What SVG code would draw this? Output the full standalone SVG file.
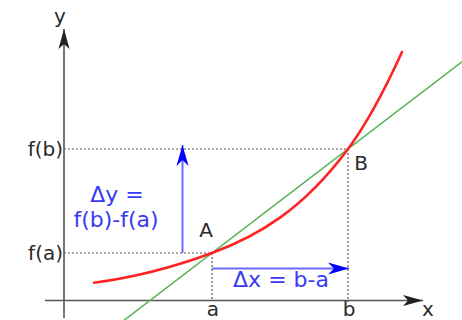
<svg xmlns="http://www.w3.org/2000/svg" width="462" height="320" viewBox="0 0 462 320">
<defs>
<style>
.lbl{font-family:"DejaVu Sans","Bitstream Vera Sans",sans-serif;font-size:20px;fill:#2a2a2a;}
.blu{font-family:"DejaVu Sans","Bitstream Vera Sans",sans-serif;font-size:22px;fill:#3a3af5;}
.axis{stroke:#555;stroke-width:1.6;fill:none;}
.dot{stroke:#555;stroke-width:1.2;stroke-dasharray:2,2;fill:none;}
.barrow{stroke:#6a6aff;stroke-width:2;fill:none;}
</style>
<marker id="ah" viewBox="-20 -6 22 12" refX="0" refY="0" markerWidth="22" markerHeight="12" markerUnits="userSpaceOnUse" orient="auto">
<path d="M0,0 L-20,-5.5 L-15,0 L-20,5.5 Z" fill="#222"/>
</marker>
<marker id="bh" viewBox="-21 -7 23 14" refX="0" refY="0" markerWidth="23" markerHeight="14" markerUnits="userSpaceOnUse" orient="auto">
<path d="M0,0 L-21,-6 L-15,0 L-21,6 Z" fill="#0000ff"/>
</marker>
</defs>
<rect width="462" height="320" fill="#fff"/>
<g id="connectors">
<line class="dot" x1="64" y1="149" x2="348" y2="149"/>
<line class="dot" x1="64" y1="253" x2="212" y2="253"/>
<line class="dot" x1="212" y1="253" x2="212" y2="300"/>
<line class="dot" x1="348" y1="149" x2="348" y2="302"/>
<line class="axis" x1="64" y1="318" x2="64" y2="29" marker-end="url(#ah)"/>
<line class="axis" x1="45" y1="300.5" x2="423" y2="300.5" marker-end="url(#ah)"/>
<line class="barrow" x1="182.5" y1="253" x2="182.5" y2="145" marker-end="url(#bh)"/>
<line class="barrow" x1="212" y1="268.5" x2="349" y2="268.5" marker-end="url(#bh)"/>
</g>
<g id="secant">
<line x1="120" y1="323.4" x2="465" y2="59.5" stroke="#5cb85c" stroke-width="1.6"/>
</g>
<g id="curve">
<path d="M94,282.7 C133.3,277.6 172.7,267.5 212,253 C257.3,236.2 302.7,210.2 348,149 C366,124.7 384,91.6 402,52" fill="none" stroke="#ff2222" stroke-width="2.6" stroke-linecap="round"/>
</g>
<g id="point-A"><text class="lbl" x="206" y="237" text-anchor="middle">A</text></g>
<g id="point-B"><text class="lbl" x="361" y="170" text-anchor="middle">B</text></g>
<g id="label-y"><text class="lbl" x="60" y="23" text-anchor="middle">y</text></g>
<g id="label-x"><text class="lbl" x="428" y="315.5" text-anchor="middle">x</text></g>
<g id="label-a"><text class="lbl" x="213" y="316" text-anchor="middle">a</text></g>
<g id="label-b"><text class="lbl" x="349" y="316" text-anchor="middle">b</text></g>
<g id="label-fb"><text class="lbl" x="63" y="156" text-anchor="end">f(b)</text></g>
<g id="label-fa"><text class="lbl" x="63" y="260" text-anchor="end">f(a)</text></g>
<g id="delta-y">
<text class="blu" x="117" y="202" text-anchor="middle">Δy =</text>
<text class="blu" x="116" y="227" text-anchor="middle">f(b)-f(a)</text>
</g>
<g id="delta-x"><text class="blu" x="281" y="287" text-anchor="middle" font-size="23">Δx = b-a</text></g>
</svg>
